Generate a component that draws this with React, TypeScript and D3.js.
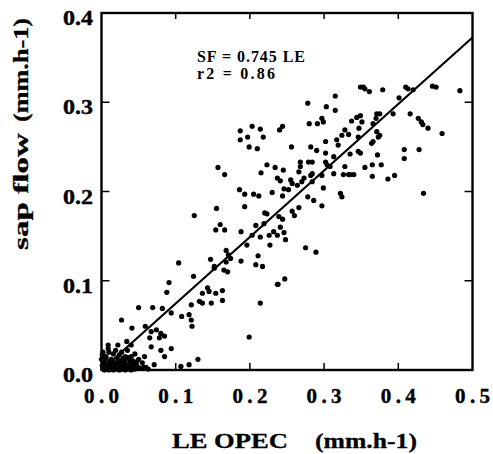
import React from "react";
import * as d3 from "d3";

const width = 493;
const height = 454;
const plot = { left: 101.5, right: 472.5, top: 13, bottom: 370 };

// LE OPEC (x) and sap flow (y)
const leOpec = [
  // low range
  0.104, 0.147, 0.152, 0.168, 0.170, 0.124, 0.091, 0.088, 0.136, 0.143, 0.145, 0.154, 0.163, 0.163, 0.132, 0.136,
  0.148, 0.121, 0.050, 0.069, 0.082, 0.094, 0.108, 0.118, 0.121, 0.122, 0.027, 0.041, 0.059, 0.067, 0.074, 0.080,
  0.065, 0.078, 0.085, 0.067, 0.080, 0.094, 0.058, 0.085, 0.130, 0.118, 0.107, 0.071, 0.009, 0.022, 0.034, 0.040,
  0.199,
  // near origin
  0.002, 0.005, 0.008, 0.010, 0.012, 0.015, 0.018, 0.020, 0.022, 0.025, 0.028, 0.030, 0.032, 0.035, 0.038, 0.040,
  0.042, 0.045, 0.003, 0.006, 0.010, 0.013, 0.016, 0.019, 0.024, 0.027, 0.001, 0.004, 0.007, 0.011, 0.014, 0.017,
  0.021, 0.026, 0.029, 0.033, 0.036, 0.048, 0.052, 0.055, 0.060, 0.050, 0.045, 0.002, 0.000, 0.009, 0.035,
  0.004, 0.008, 0.012, 0.016, 0.020, 0.024, 0.028, 0.032, 0.036, 0.040, 0.044, 0.013, 0.018, 0.023, 0.030, 0.038,
  0.006, 0.015, 0.031, 0.043, 0.057, 0.063, 0.001, 0.003, 0.026, 0.040, 0.047,
  // middle
  0.157, 0.166, 0.223, 0.234, 0.215, 0.237, 0.186, 0.193, 0.205, 0.212, 0.230, 0.125, 0.155, 0.193, 0.220, 0.223,
  0.160, 0.154, 0.166, 0.188, 0.208, 0.219, 0.214, 0.226, 0.203, 0.232, 0.237, 0.196, 0.227, 0.168, 0.171, 0.174,
  0.188, 0.211, 0.208, 0.217, 0.152, 0.165, 0.237,
  // upper middle
  0.278, 0.315, 0.303, 0.315, 0.280, 0.291, 0.297, 0.299, 0.203, 0.214, 0.218, 0.244, 0.240, 0.337, 0.344, 0.347,
  0.328, 0.324, 0.333, 0.187, 0.199, 0.210, 0.256, 0.282, 0.290, 0.302, 0.317, 0.319, 0.346, 0.346, 0.302, 0.313,
  0.268, 0.268, 0.279, 0.284, 0.302, 0.304, 0.308, 0.328, 0.245, 0.266, 0.284, 0.282, 0.297, 0.313, 0.333, 0.326,
  0.241, 0.255, 0.257, 0.273, 0.270, 0.264, 0.284, 0.246, 0.252, 0.244, 0.299, 0.322, 0.324, 0.286, 0.187, 0.197,
  // high range
  0.349, 0.353, 0.355, 0.361, 0.379, 0.410, 0.413, 0.420, 0.446, 0.451, 0.483, 0.401, 0.416, 0.427, 0.431, 0.433,
  0.440, 0.459, 0.393, 0.371, 0.375, 0.370, 0.366, 0.349, 0.351, 0.371, 0.373, 0.375, 0.366, 0.364, 0.335, 0.349,
  0.372, 0.408, 0.428, 0.408, 0.355, 0.365, 0.377, 0.335, 0.340, 0.365, 0.386, 0.395, 0.434,
  // below the line
  0.297, 0.278, 0.266, 0.257, 0.260, 0.239, 0.244, 0.241, 0.246, 0.248, 0.275, 0.289, 0.238, 0.247, 0.214
];

const sapFlow = [
  0.120, 0.124, 0.116, 0.121, 0.110, 0.105, 0.098, 0.087, 0.086, 0.092, 0.088, 0.086, 0.089, 0.078, 0.077, 0.075,
  0.075, 0.073, 0.070, 0.070, 0.069, 0.064, 0.060, 0.062, 0.056, 0.049, 0.056, 0.047, 0.049, 0.043, 0.045, 0.041,
  0.036, 0.036, 0.038, 0.026, 0.022, 0.024, 0.015, 0.015, 0.012, 0.006, 0.004, 0.006, 0.024, 0.028, 0.032, 0.028,
  0.037,
  0.002, 0.001, 0.003, 0.000, 0.005, 0.002, 0.008, 0.003, 0.012, 0.005, 0.001, 0.008, 0.015, 0.003, 0.010, 0.002,
  0.006, 0.001, 0.010, 0.015, 0.020, 0.012, 0.018, 0.022, 0.017, 0.020, 0.005, 0.008, 0.006, 0.009, 0.010, 0.004,
  0.007, 0.010, 0.013, 0.006, 0.014, 0.004, 0.002, 0.008, 0.003, 0.012, 0.018, 0.020, 0.012, 0.028, 0.022,
  0.000, 0.001, 0.001, 0.000, 0.001, 0.000, 0.002, 0.000, 0.001, 0.000, 0.002, 0.006, 0.004, 0.009, 0.004, 0.005,
  0.013, 0.008, 0.011, 0.010, 0.003, 0.001, 0.017, 0.014, 0.003, 0.015, 0.008,
  0.227, 0.219, 0.230, 0.227, 0.221, 0.215, 0.202, 0.197, 0.197, 0.195, 0.199, 0.173, 0.181, 0.183, 0.176, 0.175,
  0.163, 0.157, 0.157, 0.155, 0.162, 0.164, 0.149, 0.151, 0.151, 0.155, 0.151, 0.140, 0.140, 0.134, 0.129, 0.125,
  0.122, 0.128, 0.118, 0.116, 0.114, 0.112, 0.096,
  0.299, 0.307, 0.295, 0.291, 0.276, 0.276, 0.282, 0.278, 0.273, 0.270, 0.261, 0.273, 0.269, 0.279, 0.283, 0.271,
  0.269, 0.263, 0.264, 0.258, 0.250, 0.248, 0.250, 0.250, 0.246, 0.256, 0.258, 0.252, 0.261, 0.245, 0.243, 0.239,
  0.233, 0.228, 0.233, 0.233, 0.233, 0.230, 0.228, 0.228, 0.224, 0.222, 0.220, 0.218, 0.218, 0.220, 0.219, 0.219,
  0.212, 0.213, 0.209, 0.215, 0.211, 0.207, 0.211, 0.203, 0.202, 0.195, 0.204, 0.198, 0.194, 0.190, 0.268, 0.261,
  0.317, 0.317, 0.315, 0.312, 0.314, 0.317, 0.315, 0.314, 0.318, 0.317, 0.313, 0.305, 0.287, 0.282, 0.278, 0.275,
  0.271, 0.265, 0.287, 0.287, 0.287, 0.282, 0.276, 0.285, 0.278, 0.267, 0.261, 0.263, 0.256, 0.254, 0.242, 0.243,
  0.241, 0.247, 0.247, 0.237, 0.227, 0.230, 0.230, 0.219, 0.219, 0.217, 0.214, 0.218, 0.198,
  0.184, 0.194, 0.182, 0.178, 0.173, 0.172, 0.169, 0.160, 0.154, 0.146, 0.137, 0.132, 0.096, 0.102, 0.075
];

const xTicks = [0, 0.1, 0.2, 0.3, 0.4, 0.5];
const yTicks = [0, 0.1, 0.2, 0.3, 0.4];
const slope = 0.745;
const fitLines = [
  { text: "SF = 0.745 LE", len: 108 },
  { text: "r2 = 0.86", len: 78 }
];

const serif = "'Liberation Serif', 'Times New Roman', serif";

export default function App() {
  const x = d3.scaleLinear().domain([0, 0.5]).range([plot.left, plot.right]);
  const y = d3.scaleLinear().domain([0, 0.4]).range([plot.bottom, plot.top]);
  const fmt = d3.format(".1f");

  const points = leOpec.map((v, i) => ({ x: x(v), y: y(sapFlow[i]) }));
  const fit = d3.line<number>().x(d => x(d)).y(d => y(d * slope))([0, 0.5]);

  const innerX = xTicks.slice(1, -1);
  const innerY = yTicks.slice(1, -1);

  return (
    <svg
      width={width}
      height={height}
      style={{ position: "absolute", left: 0, top: 0, background: "#fff" }}
      fontFamily={serif}
      fontWeight="bold"
    >
      {points.map((d, i) => (
        <circle key={i} cx={d.x} cy={d.y} r={2.6} fill="#000" />
      ))}
      <path d={fit || ""} stroke="#000" strokeWidth={2.2} fill="none" />

      <rect
        x={plot.left}
        y={plot.top}
        width={plot.right - plot.left}
        height={plot.bottom - plot.top}
        fill="none"
        stroke="#000"
        strokeWidth={2.4}
      />
      {innerX.map(t => (
        <g key={"xt" + t}>
          <line x1={x(t)} x2={x(t)} y1={plot.bottom} y2={plot.bottom - 7} stroke="#000" strokeWidth={1.5} />
          <line x1={x(t)} x2={x(t)} y1={plot.top} y2={plot.top + 6} stroke="#000" strokeWidth={1.5} />
        </g>
      ))}
      {innerY.map(t => (
        <g key={"yt" + t}>
          <line x1={plot.left} x2={plot.left + 8} y1={y(t)} y2={y(t)} stroke="#000" strokeWidth={1.5} />
          <line x1={plot.right} x2={plot.right - 8} y1={y(t)} y2={y(t)} stroke="#000" strokeWidth={1.5} />
        </g>
      ))}

      {xTicks.map(t => (
        <text
          key={"xl" + t}
          x={x(t) - 17.5}
          y={403}
          fontSize={21}
          textLength={35}
          lengthAdjust="spacing"
          stroke="#000"
          strokeWidth={0.4}
        >
          {fmt(t)}
        </text>
      ))}
      {yTicks.map(t => (
        <text
          key={"yl" + t}
          x={63}
          y={y(t) + 12}
          fontSize={21}
          textLength={30}
          lengthAdjust="spacingAndGlyphs"
          stroke="#000"
          strokeWidth={0.4}
        >
          {fmt(t)}
        </text>
      ))}

      {fitLines.map((d, i) => (
        <text key={d.text} x={197} y={62 + i * 17} fontSize={16} textLength={d.len} lengthAdjust="spacing">
          {d.text}
        </text>
      ))}

      <text x={172} y={448} fontSize={22} textLength={116} lengthAdjust="spacingAndGlyphs" stroke="#000" strokeWidth={0.3}>
        LE OPEC
      </text>
      <text x={315} y={448} fontSize={22} textLength={102} lengthAdjust="spacingAndGlyphs" stroke="#000" strokeWidth={0.3}>
        (mm.h-1)
      </text>

      <g transform="translate(28,250) rotate(-90)">
        <text x={0} y={0} fontSize={21} textLength={117} lengthAdjust="spacingAndGlyphs" stroke="#000" strokeWidth={0.3}>
          sap flow
        </text>
      </g>
      <g transform="translate(28,122) rotate(-90)">
        <text x={0} y={0} fontSize={21} textLength={104} lengthAdjust="spacingAndGlyphs" stroke="#000" strokeWidth={0.3}>
          (mm.h-1)
        </text>
      </g>
    </svg>
  );
}
